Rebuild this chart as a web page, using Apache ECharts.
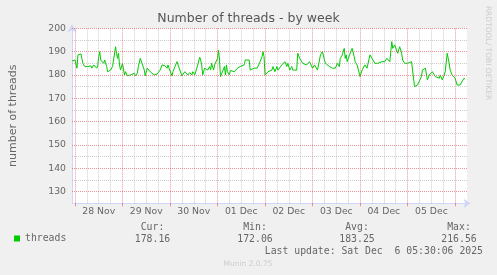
<!DOCTYPE html>
<html><head><meta charset="utf-8">
<script src="https://cdn.jsdelivr.net/npm/echarts@6/dist/echarts.min.js"></script>
<style>html,body{margin:0;padding:0;background:#f0f0f0;}#c{width:497px;height:275px;}</style>
</head><body><div id="c"></div>
<script>
const chartTitle = 'Number of threads - by week';
const yAxisTitle = 'number of threads';
const seriesName = 'threads';
const dayLabels = ['28 Nov','29 Nov','30 Nov','01 Dec','02 Dec','03 Dec','04 Dec','05 Dec'];
const dayStartHours = [0,24,48,72,96,120,144,168,192];
const dayLabelHours = [12,36,60,84,108,132,156,180];
const quarterDayOffsets = [6,12,18];
const majorYTicks = [130,140,150,160,170,180,190,200];
const minorYTicks = [135,145,155,165,175,185,195];
const hours = [-1.5,0,0.5,1,1.5,2.5,3,3.5,4,5,6.5,8,8.5,9.5,11,11.5,12,12.5,13,13.5,14.5,15,16,16.5,18,19,20,20.5,21,21.5,22,22.5,23,24,25,25.5,26.5,27.5,28,29,30,30.5,31.5,32,33,33.5,34,35,35.5,36.5,37.5,38,39,40,40.5,41.5,42,43,44,44.5,45,45.5,46.5,47,47.5,48,49,49.5,50.5,51.5,52,52.5,53,54,54.5,55.5,56.5,57,58,59,59.5,60.5,61.5,62,63,63.5,64,64.5,65.5,66,67,68,68.5,69,70,70.5,71,72,72.5,73,73.5,74.5,75.5,76,76.5,77,78,78.5,79.5,80.5,81,82,83,83.5,84.5,85.5,86,87,88,88.5,
89.5,90.5,91,92,93,93.5,94.5,95,95.5,96,97,97.5,98.5,99.5,100,101,102,102.5,103.5,104.5,105,106,107,107.5,108.5,109.5,110,111,112,112.5,113,113.5,114.5,115,116,117,117.5,118.5,119.5,120,121,121.5,122.5,123.5,124,125,126,126.5,127.5,128.5,129,130,131,131.5,132.5,133.5,134,135,136,136.5,137,137.5,138.5,139,140,141,141.5,142.5,143.5,144,145,145.5,146.5,147.5,148,149,150,150.5,151.5,152.5,153,154,155,155.5,156.5,157.5,158,159,160,160.5,161.5,162.5,163,164,165,165.5,166.5,167.5,168,169,170,170.5,171.5,172.5,173,174,175,175.5,176.5,177,178,179,179.5,180.5,181.5,182,183,184,184.5,185.5,186.5,187,188,189,189.5,190.5,191.5,192,193,194,194.5,195.5,196.5,197];
const threads = [186.0,186.4,185.7,182.9,188.6,187.9,189.0,187.1,185.0,183.6,183.6,183.9,182.9,184.3,182.9,183.9,187.9,190.0,186.4,187.1,185.0,186.4,183.6,181.4,182.1,183.6,184.3,192.1,189.3,187.1,189.3,184.3,182.1,185.0,180.0,181.4,179.6,179.0,180.0,179.6,180.7,179.6,180.7,183.6,187.1,187.6,186.4,182.1,179.6,182.9,183.6,181.4,180.7,180.0,180.0,180.4,180.7,182.1,184.3,185.0,183.6,183.9,182.9,184.3,182.9,182.9,179.6,181.4,183.6,185.7,186.4,185.0,182.1,179.6,180.4,181.4,182.1,180.0,181.0,180.0,181.4,180.0,182.9,184.3,187.6,186.4,184.3,180.0,182.9,182.9,182.1,183.6,182.1,185.0,182.1,184.3,183.6,187.1,190.7,186.4,179.3,181.4,183.6,180.0,184.3,181.4,180.0,181.9,182.1,181.4,182.1,182.9,182.9,183.6,183.6,184.3,186.4,187.1,186.4,182.1,
182.1,182.9,182.1,182.9,182.9,185.7,187.9,190.0,187.9,180.0,180.7,181.4,180.7,182.1,183.6,181.4,183.6,182.1,182.9,184.3,183.6,185.7,183.6,185.0,182.1,183.6,182.1,182.9,182.1,189.3,190.0,187.1,187.9,185.0,185.7,184.3,185.0,185.7,186.4,182.9,184.3,183.6,182.1,186.4,188.6,190.0,186.4,185.0,184.3,183.6,184.3,182.9,183.6,182.9,185.0,183.6,187.1,188.6,191.4,187.1,188.6,185.7,185.0,189.3,191.4,187.9,185.7,184.3,185.0,179.3,182.1,182.9,184.3,182.9,183.6,188.6,187.1,186.4,185.0,185.7,185.0,184.3,185.7,185.0,185.7,187.1,186.4,185.7,194.3,191.4,192.9,193.6,189.3,192.1,189.3,186.4,185.0,185.7,185.0,184.3,185.7,186.4,175.0,175.3,175.7,176.4,179.3,182.1,181.4,182.9,177.9,180.0,179.3,181.4,180.7,179.3,178.6,178.6,180.0,177.9,180.0,181.4,189.3,185.0,182.1,180.0,179.3,178.6,175.7,175.3,175.7,176.4,178.6,178.2];
const statLabels = ['Cur:','Min:','Avg:','Max:'];
const statValues = ['178.16','172.06','183.25','216.56'];
const lastUpdate = 'Last update: Sat Dec  6 05:30:06 2025';
const footerText = 'Munin 2.0.75';
const watermarkText = 'RRDTOOL/ TOBI OETIKER';

const FONT = '#666666';
const AXIS = '#CFD6F8';
const GRID = 'rgba(143,143,143,0.45)';
const MGRID = 'rgba(222,79,79,0.6)';
const LINE = '#00CC00';
const X_MIN = -1.5, X_MAX = 198;

const n = Math.min(hours.length, threads.length);
const seriesData = [];
for (let i = 0; i < n; i++) seriesData.push([hours[i], threads[i]]);

const minorHourLines = [];
dayStartHours.forEach(d => quarterDayOffsets.forEach(o => { const h = d + o; if (h > X_MIN && h < X_MAX) minorHourLines.push(h); }));
const majorHourLines = dayStartHours.filter(h => h > X_MIN && h < X_MAX);

const minorMarks = minorHourLines.map(h => ({xAxis: h})).concat(minorYTicks.map(v => ({yAxis: v})));
const majorMarks = majorHourLines.map(h => ({xAxis: h})).concat(majorYTicks.map(v => ({yAxis: v})));

function gridSeries(name, marks, color, z) {
  return {
    name: name, type: 'line', data: [], z: z, silent: true, showSymbol: false,
    markLine: {
      silent: true, symbol: ['none', 'none'], animation: false, precision: 4,
      label: {show: false}, emphasis: {disabled: true},
      lineStyle: {color: color, type: [1, 1], width: 1},
      data: marks
    }
  };
}

const statX = [152.5, 255, 357, 459];
const mono = '9.8px "DejaVu Sans Mono"';
const graphics = [];
statLabels.forEach((t, i) => {
  graphics.push({type:'text', x:statX[i], y:227.5, silent:true, style:{text:t, font:mono, fill:FONT, align:'center', verticalAlign:'middle'}});
  graphics.push({type:'text', x:statX[i], y:239.5, silent:true, style:{text:statValues[i], font:mono, fill:FONT, align:'center', verticalAlign:'middle'}});
});
graphics.push({type:'text', x:483, y:251.7, silent:true, style:{text:lastUpdate, font:mono, fill:FONT, align:'right', verticalAlign:'middle'}});
graphics.push({type:'text', x:248, y:263.8, silent:true, style:{text:footerText, font:'7.5px "DejaVu Sans"', fill:'#cccccc', align:'center', verticalAlign:'middle'}});
graphics.push({type:'text', x:487.5, y:53, rotation:-Math.PI/2, silent:true, style:{text:watermarkText, font:'7.5px "DejaVu Sans"', fill:'#cccccc', align:'center', verticalAlign:'middle'}});

const chart = echarts.init(document.getElementById('c'), null, {renderer:'canvas'});
chart.setOption({
  animation:false,
  backgroundColor:'#f0f0f0',
  title:{text:chartTitle, left:'center', top:12, padding:0, textStyle:{fontFamily:'DejaVu Sans', fontSize:12.5, fontWeight:'normal', color:'#555555'}},
  legend:{data:[seriesName], left:14, top:233.5, padding:0, itemWidth:6, itemHeight:6, icon:'rect', selectedMode:false,
    textStyle:{fontFamily:'DejaVu Sans Mono', fontSize:9.8, color:FONT}},
  grid:{left:67, right:30, top:28.3, bottom:71.7, show:true, backgroundColor:'#ffffff', borderWidth:0, containLabel:false},
  xAxis:[{
    type:'value', min:X_MIN, max:X_MAX,
    axisLine:{show:true, onZero:false, lineStyle:{color:AXIS, width:1}, symbol:['none','arrow'], symbolSize:[7,7], symbolOffset:[0,3.5]},
    axisTick:{show:true, customValues:dayStartHours, length:3, lineStyle:{color:MGRID}},
    axisLabel:{customValues:dayLabelHours, formatter:(v)=>{const k=Math.round((v-12)/24); return dayLabels[k]||'';}, color:FONT, fontSize:9.3, fontFamily:'DejaVu Sans', margin:4},
    splitLine:{show:false}
  }],
  yAxis:[{
    type:'value', min:125, max:200, interval:5,
    name:yAxisTitle, nameLocation:'middle', nameGap:53, nameRotate:90,
    nameTextStyle:{color:FONT, fontSize:11, fontFamily:'DejaVu Sans'},
    axisLine:{show:true, onZero:false, lineStyle:{color:AXIS, width:1}, symbol:['none','arrow'], symbolSize:[7,8], symbolOffset:[0,4]},
    axisTick:{show:false},
    axisLabel:{formatter:(v)=> (v % 10 === 0 ? String(v) : ''), color:FONT, fontSize:9.3, fontFamily:'DejaVu Sans', margin:6},
    splitLine:{show:false}
  }],
  series:[
    gridSeries('minorGrid', minorMarks, GRID, 1),
    gridSeries('majorGrid', majorMarks, MGRID, 2),
    {
      name:seriesName, type:'line', data:seriesData, showSymbol:false, symbol:'none', z:3,
      lineStyle:{color:LINE, width:1}, itemStyle:{color:LINE}, emphasis:{disabled:true}
    }
  ],
  graphic:graphics
});
</script></body></html>
